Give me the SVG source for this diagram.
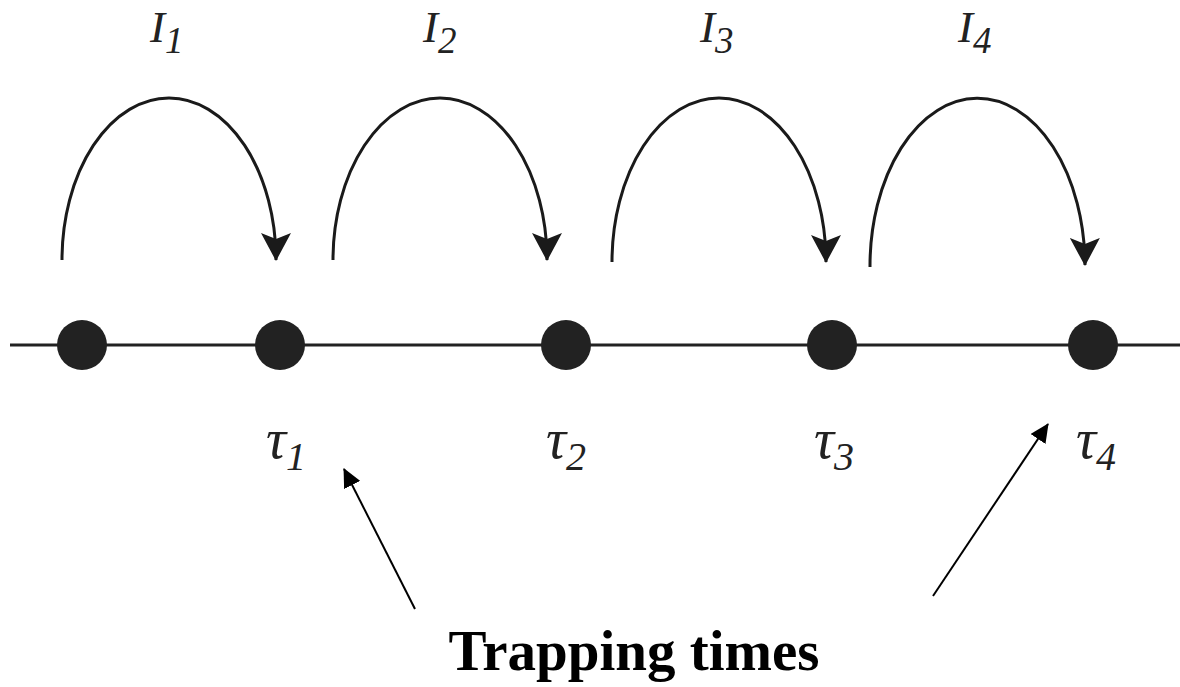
<svg xmlns="http://www.w3.org/2000/svg" width="1180" height="687" viewBox="0 0 1180 687">
<style>
.arc{fill:none;stroke:#1a1a1a;stroke-width:3}
.ptr{fill:none;stroke:#000;stroke-width:2}
.dot{fill:#222}
.lbl{font-family:"Liberation Serif","DejaVu Serif",serif;font-style:italic;fill:#222}
.tau{font-size:56px}
.tsub{font-size:40px}
.ii{font-size:45px}
.isub{font-size:37px}
.title{font-family:"Liberation Serif","Times New Roman",serif;font-weight:bold;font-size:57px;fill:#000}
</style>
<defs>
<marker id="ah" markerWidth="30" markerHeight="30" refX="27" refY="15" orient="auto" markerUnits="userSpaceOnUse">
<path d="M0,0 L28,15 L0,30 L6,15 Z" fill="#1a1a1a"/>
</marker>
<marker id="ph" markerWidth="20" markerHeight="18" refX="18" refY="9" orient="auto" markerUnits="userSpaceOnUse">
<path d="M0,0 L19,9 L0,18 Z" fill="#000"/>
</marker>
</defs>
<g id="axis">
<line x1="10" y1="345" x2="1180" y2="345" stroke="#222" stroke-width="3"/>
</g>
<g id="connectors">
<path class="arc" d="M62,260 A107,162 0 0 1 276,260" marker-end="url(#ah)"/>
<path class="arc" d="M333,260 A107,162 0 0 1 547,260" marker-end="url(#ah)"/>
<path class="arc" d="M612,262 A107,164 0 0 1 826,262" marker-end="url(#ah)"/>
<path class="arc" d="M870,267 A107,167 0 0 1 1085,265" marker-end="url(#ah)"/>
<line class="ptr" x1="415" y1="609" x2="344" y2="469" marker-end="url(#ph)"/>
<line class="ptr" x1="933" y1="596" x2="1048" y2="424" marker-end="url(#ph)"/>
</g>
<g id="node-0"><circle class="dot" cx="82" cy="345" r="25"/></g>
<g id="node-1"><circle class="dot" cx="280" cy="345" r="25"/><text class="lbl tau" x="266" y="458">τ<tspan class="tsub" dy="12">1</tspan></text></g>
<g id="node-2"><circle class="dot" cx="566" cy="345" r="25"/><text class="lbl tau" x="546" y="458">τ<tspan class="tsub" dy="12">2</tspan></text></g>
<g id="node-3"><circle class="dot" cx="832" cy="345" r="25"/><text class="lbl tau" x="814" y="458">τ<tspan class="tsub" dy="12">3</tspan></text></g>
<g id="node-4"><circle class="dot" cx="1093" cy="345" r="25"/><text class="lbl tau" x="1076" y="458">τ<tspan class="tsub" dy="12">4</tspan></text></g>
<g id="labels">
<text class="lbl ii" x="150" y="42">I<tspan class="isub" dy="11">1</tspan></text>
<text class="lbl ii" x="423" y="42">I<tspan class="isub" dy="11">2</tspan></text>
<text class="lbl ii" x="700" y="42">I<tspan class="isub" dy="11">3</tspan></text>
<text class="lbl ii" x="958" y="42">I<tspan class="isub" dy="11">4</tspan></text>
</g>
<g id="title">
<text class="title" x="634" y="670" text-anchor="middle">Trapping times</text>
</g>
</svg>
